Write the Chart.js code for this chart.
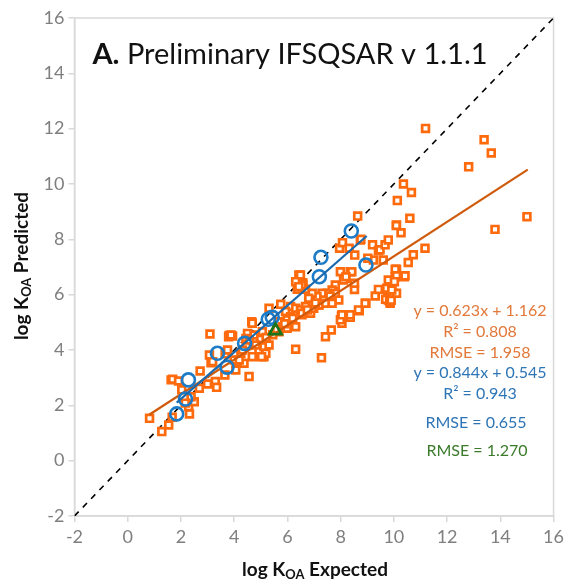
<!DOCTYPE html>
<html>
<head>
<meta charset="utf-8">
<script src="https://cdn.jsdelivr.net/npm/chart.js@4"></script>
<style>
  html, body { margin: 0; padding: 0; background: #fff; }
  canvas { display: block; }
</style>
</head>
<body>
<canvas id="myChart" width="568" height="583"></canvas>
<script>
// axis ticks
const tickValues = [-2, 0, 2, 4, 6, 8, 10, 12, 14, 16];

// preliminary IFSQSAR predictions (orange squares)
const orangeX = [0.82, 1.28, 1.54, 1.67, 1.63, 1.69, 1.91, 2.03, 2.32, 2.29, 2.5, 2.38, 2.16, 2.72, 2.69, 3.0, 3.29, 3.34,
  3.09, 3.07, 3.13, 3.66, 3.65, 3.79, 3.94, 3.75, 4.06, 4.12, 4.25, 4.46, 4.56, 4.5, 3.81, 4.44, 4.93, 5.12, 3.19, 4.0,
  6.43, 6.58, 6.37, 6.68, 5.75, 6.12, 5.93, 6.31, 6.49, 6.87, 6.99, 7.18, 6.87, 6.55, 6.12, 5.99, 5.68, 5.81, 5.99, 5.68,
  6.31, 4.66, 5.06, 4.75, 4.56, 5.0, 5.12, 4.81, 5.31, 5.19, 4.31, 4.68, 5.03, 4.37, 4.19, 3.88, 6.31, 7.28, 7.43,
  7.65, 8.05, 8.03, 8.36, 8.7, 8.95, 9.3, 9.42, 9.77, 9.79, 9.86, 9.69, 9.98, 10.1, 9.92, 10.05, 10.1, 10.39, 9.79,
  8.52, 7.99, 8.36, 8.18, 7.8, 7.68, 7.49, 7.3, 7.93, 7.43, 7.11, 6.93, 6.8, 6.58, 6.49, 7.8, 7.68, 7.18, 6.93, 6.68,
  6.55, 7.99, 8.64, 8.74, 7.96, 8.07, 8.32, 9.2, 9.42, 9.48, 9.67, 9.79, 9.6, 9.23, 9.02, 8.53, 8.76, 10.6, 10.1, 10.27,
  11.17, 10.73, 10.54, 10.05, 10.42, 10.1, 10.02, 9.73, 9.92, 8.11, 8.42, 8.2, 8.52, 8.05, 8.36, 8.67, 8.92, 6.54,
  5.31, 4.68, 6.31, 6.43, 10.36, 10.66, 10.13, 10.09, 11.19, 13.39, 13.66, 12.81, 15.0, 13.8, 9.84, 9.9, 5.2, 5.45,
  5.6, 5.9, 6.2, 6.75, 7.05, 7.6];
const orangeY = [1.53, 1.05, 1.29, 1.57, 2.92, 2.94, 2.88, 2.56, 1.69, 1.95, 2.13, 2.31, 2.08, 3.24, 2.62, 2.77, 2.86, 2.65,
  4.58, 3.82, 3.54, 3.86, 3.1, 4.48, 4.51, 4.0, 3.28, 3.58, 3.88, 4.18, 3.04, 4.6, 4.52, 4.42, 4.0, 3.76, 3.58, 3.64,
  6.71, 6.43, 6.2, 6.2, 5.65, 5.57, 5.39, 5.51, 5.45, 5.63, 5.51, 5.63, 5.33, 5.27, 5.2, 5.09, 5.02, 4.84, 4.79, 4.66,
  4.84, 5.02, 4.66, 4.54, 4.36, 4.39, 4.12, 4.18, 4.18, 3.88, 4.0, 3.76, 3.76, 3.52, 3.64, 4.54, 4.03, 3.72, 4.48,
  4.72, 4.97, 5.23, 5.18, 5.42, 5.69, 5.95, 6.19, 6.14, 5.81, 5.69, 5.83, 6.05, 6.05, 6.39, 6.65, 6.92, 6.65, 6.53,
  6.19, 6.83, 6.83, 6.59, 6.35, 6.17, 6.05, 6.05, 5.81, 5.69, 5.93, 6.05, 5.87, 6.35, 6.71, 6.05, 5.69, 5.63, 5.51, 5.57,
  5.33, 5.09, 8.84, 7.98, 7.68, 7.88, 7.68, 7.8, 7.6, 7.62, 7.8, 7.98, 7.25, 7.25, 7.32, 7.43, 8.0, 8.76, 8.52, 8.24,
  7.68, 7.44, 7.16, 6.92, 6.68, 6.68, 6.47, 6.23, 6.17, 6.53, 6.83, 6.65, 6.41, 5.27, 5.27, 5.45, 5.69, 6.35,
  5.51, 4.97, 6.47, 6.29, 10.0, 9.69, 9.4, 8.5, 12.01, 11.6, 11.12, 10.62, 8.82, 8.36, 5.75, 5.8, 4.45, 4.55,
  4.75, 4.95, 5.15, 5.45, 5.7, 5.95];

// experimental validation set (blue circles)
const blueX = [1.84, 2.17, 2.28, 3.37, 3.73, 4.39, 5.28, 5.43, 7.2, 7.26, 8.4, 8.95];
const blueY = [1.69, 2.23, 2.92, 3.88, 3.38, 4.24, 5.11, 5.18, 6.65, 7.35, 8.3, 7.07];

// single green point
const greenX = [5.55];
const greenY = [4.7];

// regression line endpoints
const orangeFitX = [0.82, 15.03];
const orangeFitY = [1.67, 10.52];
const blueFitX = [1.84, 8.98];
const blueFitY = [2.10, 8.12];
const oneToOneX = [-2, 16];
const oneToOneY = [-2, 16];

// statistics text
const orangeStats = ['y = 0.623x + 1.162', 'R² = 0.808', 'RMSE = 1.958'];
const blueStats = ['y = 0.844x + 0.545', 'R² = 0.943'];
const blueRmse = 'RMSE = 0.655';
const greenRmse = 'RMSE = 1.270';

const FONT = 'Lato, "Open Sans", sans-serif';

function pts(xs, ys) {
  return xs.map((x, i) => ({ x: x, y: ys[i] }));
}

// draws pieces of text with optional subscript, centered at cx
function richText(ctx, pieces, cx, cy, size) {
  let total = 0;
  pieces.forEach(p => {
    ctx.font = 'bold ' + (p.sub ? size * 0.68 : size) + 'px ' + FONT;
    p.w = ctx.measureText(p.t).width;
    total += p.w;
  });
  let x = cx - total / 2;
  pieces.forEach(p => {
    ctx.font = 'bold ' + (p.sub ? size * 0.68 : size) + 'px ' + FONT;
    ctx.fillText(p.t, x, p.sub ? cy + size * 0.28 : cy);
    x += p.w;
  });
}

const textPlugin = {
  id: 'texts',
  beforeDatasetsDraw(chart) {
    const ctx = chart.ctx;
    const a = chart.chartArea;
    ctx.save();
    ctx.strokeStyle = '#d9d9d9';
    ctx.lineWidth = 1.5;
    ctx.strokeRect(a.left, a.top, a.right - a.left, a.bottom - a.top);
    ctx.restore();
  },
  afterDatasetsDraw(chart) {
    const ctx = chart.ctx;
    ctx.save();
    ctx.textBaseline = 'middle';

    // title inside the plot
    ctx.fillStyle = '#111';
    ctx.font = 'bold 29px ' + FONT;
    const boldPart = 'A.';
    const wb = ctx.measureText(boldPart).width;
    ctx.font = '29px ' + FONT;
    const rest = ' Preliminary IFSQSAR v 1.1.1';
    const wr = ctx.measureText(rest).width;
    const tx = 290 - (wb + wr) / 2;
    ctx.font = 'bold 29px ' + FONT;
    ctx.fillText(boldPart, tx, 55);
    ctx.font = '29px ' + FONT;
    ctx.fillText(rest, tx + wb, 55);

    // statistics
    ctx.textAlign = 'center';
    ctx.font = '16px ' + FONT;
    ctx.fillStyle = '#e2783a';
    orangeStats.forEach((s, i) => ctx.fillText(s, 480, 311 + i * 21));
    ctx.fillStyle = '#2e75b6';
    blueStats.forEach((s, i) => ctx.fillText(s, 480, 373 + i * 21));
    ctx.fillText(blueRmse, 476, 423);
    ctx.fillStyle = '#3a7a2a';
    ctx.fillText(greenRmse, 477, 451);

    // axis titles
    ctx.textAlign = 'left';
    ctx.fillStyle = '#111';
    richText(ctx, [{ t: 'log K' }, { t: 'OA', sub: true }, { t: ' Expected' }], 315, 570, 19);
    ctx.translate(22, 266);
    ctx.rotate(-Math.PI / 2);
    richText(ctx, [{ t: 'log K' }, { t: 'OA', sub: true }, { t: ' Predicted' }], 0, 0, 19);
    ctx.restore();
  }
};

const axisCommon = {
  type: 'linear',
  min: -2,
  max: 16,
  afterBuildTicks: s => { s.ticks = tickValues.map(v => ({ value: v })); },
  grid: {
    drawOnChartArea: false,
    drawTicks: true,
    tickLength: 6,
    color: '#d9d9d9',
    lineWidth: 1.5
  },
  border: { color: '#d9d9d9', width: 1.5 },
  ticks: {
    color: '#7f7f7f',
    font: { family: FONT, size: 18 },
    padding: 4
  }
};

new Chart(document.getElementById('myChart').getContext('2d'), {
  type: 'scatter',
  data: {
    datasets: [
      {
        data: pts(oneToOneX, oneToOneY),
        showLine: true,
        borderColor: '#000',
        borderWidth: 1.6,
        borderDash: [6, 6],
        pointRadius: 0,
        order: 7
      },
      {
        data: pts(orangeX, orangeY),
        pointStyle: 'rect',
        pointRadius: 4.8,
        borderWidth: 2.7,
        borderColor: '#ff6a0d',
        backgroundColor: '#ffffff',
        order: 6
      },
      {
        data: pts(orangeFitX, orangeFitY),
        showLine: true,
        borderColor: '#d05a0c',
        borderWidth: 2.2,
        pointRadius: 0,
        order: 5
      },
      {
        data: pts(blueX, blueY),
        pointStyle: 'circle',
        pointRadius: 6.5,
        borderWidth: 2.6,
        borderColor: '#1c7cc7',
        backgroundColor: 'rgba(255,255,255,0)',
        order: 4
      },
      {
        data: pts(blueFitX, blueFitY),
        showLine: true,
        borderColor: '#1a6aad',
        borderWidth: 2.2,
        pointRadius: 0,
        order: 3
      },
      {
        data: pts(greenX, greenY),
        pointStyle: 'triangle',
        pointRadius: 7,
        borderWidth: 2.8,
        borderColor: '#17761c',
        backgroundColor: 'rgba(255,255,255,0)',
        order: 2
      }
    ]
  },
  options: {
    responsive: false,
    animation: false,
    events: [],
    layout: { padding: { left: 0, right: 10, top: 18, bottom: 0 } },
    plugins: {
      legend: { display: false },
      tooltip: { enabled: false }
    },
    scales: {
      x: Object.assign({}, axisCommon, {
        afterFit: s => { s.height = 67; }
      }),
      y: Object.assign({}, axisCommon, {
        afterFit: s => { s.width = 74.5; }
      })
    }
  },
  plugins: [textPlugin]
});
</script>
</body>
</html>
